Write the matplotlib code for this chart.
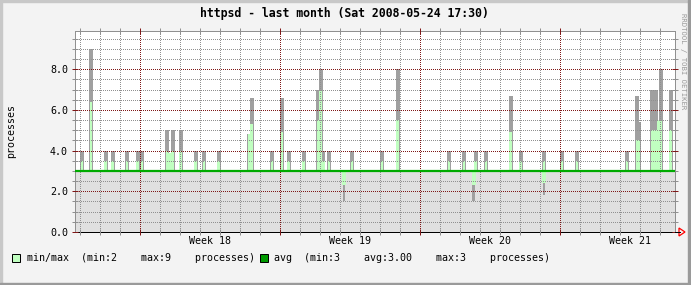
import matplotlib
matplotlib.use("Agg")
import matplotlib.pyplot as plt
from matplotlib.patches import Rectangle, Polygon
from matplotlib.lines import Line2D
from matplotlib.ticker import FixedLocator, MultipleLocator, FormatStrFormatter, NullFormatter
import matplotlib.transforms as mtrans

W, H = 691, 285

# ---------------- data ----------------
title = "httpsd - last month (Sat 2008-05-24 17:30)"
y_label = "processes"
week_labels = ["Week 18", "Week 19", "Week 20", "Week 21"]
week_starts = [3.265, 10.265, 17.265, 24.265]          # days from left edge
legend_minmax = "min/max  (min:2    max:9    processes)"
legend_avg = "avg  (min:3    avg:3.00    max:3    processes)"
credit = "RRDTOOL / TOBI OETIKER"

# spikes above the average (day, max value, lower envelope)
spike_day = [0.35, 0.80, 1.53, 1.88, 2.60, 3.13, 3.35, 4.60, 4.73, 4.88, 5.28,
             6.03, 6.45, 7.18, 8.72, 8.83, 9.85, 10.35, 10.68, 11.43, 12.17,
             12.29, 12.42, 12.70, 13.85, 15.35, 16.13, 18.70, 19.45, 20.04,
             20.55, 21.78, 22.28, 23.45, 24.35, 25.10, 27.60, 28.10, 28.20,
             28.85, 28.95, 29.05, 29.15, 29.28, 29.78]
spike_max = [4.0, 9.0, 4.0, 4.0, 4.0, 4.0, 4.0, 5.0, 3.9, 5.0, 5.0,
             4.0, 4.0, 4.0, 4.8, 6.6, 4.0, 6.6, 4.0, 4.0, 7.0,
             8.0, 4.0, 4.0, 4.0, 4.0, 8.0, 4.0, 4.0, 4.0,
             4.0, 6.7, 4.0, 4.0, 4.0, 4.0, 4.0, 6.7, 5.4,
             7.0, 5.0, 7.0, 5.5, 8.0, 7.0]
spike_mid = [3.5, 6.4, 3.5, 3.5, 3.5, 3.5, 3.5, 4.0, 3.9, 4.0, 4.0,
             3.5, 3.5, 3.5, 4.8, 5.3, 3.5, 4.9, 3.5, 3.5, 5.5,
             7.0, 3.5, 3.5, 3.5, 3.5, 5.5, 3.5, 3.5, 3.5,
             3.5, 4.9, 3.5, 3.5, 3.5, 3.5, 3.5, 4.5, 4.5,
             5.0, 5.0, 5.0, 5.5, 5.5, 5.0]

# dips below the average (day, min value, upper envelope)
dip_day = [13.45, 19.93, 23.45]
dip_min = [1.5, 1.5, 1.8]
dip_mid = [2.3, 2.3, 2.4]

# average series
avg_day = [0.0, 30.0]
avg_val = [3.0, 3.0]

# ---------------- style ----------------
BACK = "#f3f3f3"
GRAY_AREA = "#e0e0e0"
DARK_GRAY = "#a0a0a0"
LIGHT_GREEN = "#c0ffc0"
AVG_GREEN = "#00aa00"
GRID = "#909090"
MGRID = "#801818"
MONO = "DejaVu Sans Mono"

fig = plt.figure(figsize=(W / 100, H / 100), dpi=100, facecolor=BACK)


def fx(px):
    return px / W


def fy(py):
    return 1 - py / H


# outer shaded border
fig.patches.append(Rectangle((0, fy(2)), 1, 2 / H, transform=fig.transFigure, color="#c8c8c8", zorder=0))
fig.patches.append(Rectangle((0, 0), 2 / W, 1, transform=fig.transFigure, color="#c8c8c8", zorder=0))
fig.patches.append(Rectangle((0, 0), 1, 2 / H, transform=fig.transFigure, color="#9a9a9a", zorder=0))
fig.patches.append(Rectangle((fx(W - 3), 0), 3 / W, 1, transform=fig.transFigure, color="#9a9a9a", zorder=0))

ax = fig.add_axes([fx(75), fy(232), 600 / W, 201 / H])
ax.set_facecolor("white")
ax.set_xlim(0, 30)
ax.set_ylim(0, 9.88)

# area under the average (min envelope)
ax.fill_between(avg_day, 0, avg_val, color=GRAY_AREA, lw=0, zorder=1)

base = avg_val[0]
# spikes
ax.bar(spike_day, [m - base for m in spike_max], bottom=base, width=0.2,
       color=DARK_GRAY, lw=0, antialiased=False, zorder=1.2)
ax.bar(spike_day, [m - base for m in spike_mid], bottom=base, width=0.14,
       color=LIGHT_GREEN, lw=0, antialiased=False, zorder=1.3)
# dips
ax.bar(dip_day, [base - m for m in dip_min], bottom=dip_min, width=0.12,
       color=DARK_GRAY, lw=0, antialiased=False, zorder=1.2)
ax.bar(dip_day, [base - m for m in dip_mid], bottom=dip_mid, width=0.2,
       color=LIGHT_GREEN, lw=0, antialiased=False, zorder=1.3)

# average line
ax.plot(avg_day, avg_val, color=AVG_GREEN, lw=1.6, zorder=4, solid_capstyle="butt")

# grid
ax.yaxis.set_major_locator(MultipleLocator(2))
ax.yaxis.set_minor_locator(MultipleLocator(0.5))
ax.yaxis.set_major_formatter(FormatStrFormatter("%.1f"))
ax.xaxis.set_major_locator(FixedLocator(week_starts))
ax.xaxis.set_minor_locator(FixedLocator([0.265 + k for k in range(30)]))
ax.xaxis.set_major_formatter(NullFormatter())
ax.set_axisbelow(False)
ax.grid(which="minor", color=GRID, linestyle=(0, (1, 2)), lw=0.72, antialiased=False)
ax.grid(which="major", color=MGRID, linestyle=(0, (1, 2)), lw=0.72, antialiased=False)

ax.tick_params(which="both", direction="inout", length=4, width=0.72,
               top=True, right=True, labelsize=7.2, pad=3.0)
ax.tick_params(which="major", color=MGRID)
ax.tick_params(which="minor", color=GRID)
for lab in ax.get_yticklabels():
    lab.set_fontfamily(MONO)

for side in ["left", "top", "right"]:
    ax.spines[side].set_color("#909090")
    ax.spines[side].set_linewidth(0.72)
ax.spines["bottom"].set_color("black")
ax.spines["bottom"].set_linewidth(0.72)

# week labels
tr = mtrans.blended_transform_factory(ax.transData, fig.transFigure)
for ws, lab in zip(week_starts, week_labels):
    ax.text(ws + 3.5, fy(241), lab, transform=tr, ha="center", va="center",
            fontsize=7.2, family=MONO, clip_on=False)

# axis extension and red arrow
fig.add_artist(Line2D([fx(675), fx(680)], [fy(232), fy(232)], color="black", lw=0.72))
fig.add_artist(Polygon([[fx(679), fy(228)], [fx(679), fy(236)], [fx(685), fy(232)]],
                       closed=True, fill=False, edgecolor="red", lw=0.9,
                       transform=fig.transFigure))

# title, y label, credit
fig.text(fx(344.5), fy(14), title, ha="center", va="center", fontsize=8.3,
         family=MONO, weight="bold")
fig.text(fx(11), fy(131), y_label, ha="center", va="center", rotation=90,
         fontsize=7.2, family=MONO)
fig.text(fx(683.5), fy(13), credit, ha="center", va="top", rotation=270,
         fontsize=5.2, family=MONO, color="#999999")

# legend
fig.patches.append(Rectangle((fx(12), fy(262)), 8 / W, 8 / H, transform=fig.transFigure,
                             facecolor=LIGHT_GREEN, edgecolor="black", lw=0.72))
fig.text(fx(26.7), fy(258), legend_minmax, ha="left", va="center", fontsize=7.2, family=MONO)
fig.patches.append(Rectangle((fx(259.5), fy(262)), 8 / W, 8 / H, transform=fig.transFigure,
                             facecolor="#009a00", edgecolor="black", lw=0.72))
fig.text(fx(274), fy(258), legend_avg, ha="left", va="center", fontsize=7.2, family=MONO)

fig.savefig("out.png", dpi=100, facecolor=BACK)
